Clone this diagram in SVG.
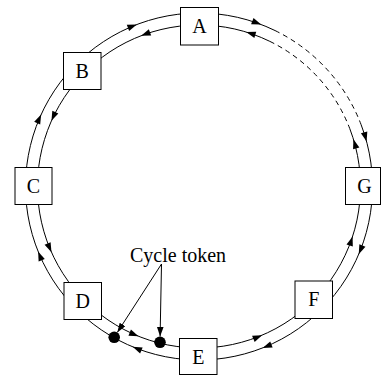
<svg xmlns="http://www.w3.org/2000/svg" xmlns:xlink="http://www.w3.org/1999/xlink" width="381" height="375" viewBox="0 0 381 375">
  <style>
    .ring { fill: none; stroke: #000; stroke-width: 1; }
    .dash { stroke-dasharray: 5 4; }
    .node rect { fill: #fff; stroke: #000; stroke-width: 1; }
    .node text { text-anchor: middle; }
    .head { fill: #000; }
    .lead { fill: none; stroke: #000; stroke-width: 1; marker-end: url(#tip); }
    .token { fill: #000; }
  </style>
  <defs>
    <!-- arrowhead pointing along +x, tip at origin -->
    <path id="head" class="head" d="M0,0 L-9.5,-3.3 L-9.5,3.3 Z"/>
    <marker id="tip" markerUnits="userSpaceOnUse" markerWidth="11" markerHeight="8" refX="9.5" refY="3.3" orient="auto">
      <path d="M0,0 L9.5,3.3 L0,6.6 Z" fill="#000"/>
    </marker>
  </defs>

  <!-- two counter-running rings, centre (199,186.5); outer runs clockwise, inner anticlockwise -->
  <g id="connectors">
    <path class="ring" d="M360.98,124.32 A173.5,173.5 0 1 1 275.06,30.56"/>
    <path class="ring dash" d="M275.06,30.56 A173.5,173.5 0 0 1 360.98,124.32"/>
    <path class="ring" d="M349.77,128.62 A161.5,161.5 0 1 1 269.80,41.35"/>
    <path class="ring dash" d="M269.80,41.35 A161.5,161.5 0 0 1 349.77,128.62"/>

    <!-- outer ring heads (clockwise) -->
    <use xlink:href="#head" transform="rotate(-69 199 186.5) translate(372.5 186.5) rotate(90)"/>
    <use xlink:href="#head" transform="rotate(-15 199 186.5) translate(372.5 186.5) rotate(90)"/>
    <use xlink:href="#head" transform="rotate(23 199 186.5) translate(372.5 186.5) rotate(90)"/>
    <use xlink:href="#head" transform="rotate(68.5 199 186.5) translate(372.5 186.5) rotate(90)"/>
    <use xlink:href="#head" transform="rotate(112.5 199 186.5) translate(372.5 186.5) rotate(90)"/>
    <use xlink:href="#head" transform="rotate(158 199 186.5) translate(372.5 186.5) rotate(90)"/>
    <use xlink:href="#head" transform="rotate(204.5 199 186.5) translate(372.5 186.5) rotate(90)"/>
    <use xlink:href="#head" transform="rotate(249 199 186.5) translate(372.5 186.5) rotate(90)"/>

    <!-- inner ring heads (anticlockwise) -->
    <use xlink:href="#head" transform="rotate(-73 199 186.5) translate(360.5 186.5) rotate(-90)"/>
    <use xlink:href="#head" transform="rotate(-17 199 186.5) translate(360.5 186.5) rotate(-90)"/>
    <use xlink:href="#head" transform="rotate(18 199 186.5) translate(360.5 186.5) rotate(-90)"/>
    <use xlink:href="#head" transform="rotate(67 199 186.5) translate(360.5 186.5) rotate(-90)"/>
    <use xlink:href="#head" transform="rotate(112 199 186.5) translate(360.5 186.5) rotate(-90)"/>
    <use xlink:href="#head" transform="rotate(156 199 186.5) translate(360.5 186.5) rotate(-90)"/>
    <use xlink:href="#head" transform="rotate(204 199 186.5) translate(360.5 186.5) rotate(-90)"/>
    <use xlink:href="#head" transform="rotate(249 199 186.5) translate(360.5 186.5) rotate(-90)"/>
  </g>

  <!-- stations -->
  <g font-family="'Liberation Serif', 'Times New Roman', 'DejaVu Serif', serif" font-size="20" fill="#000">
    <g id="node-A" class="node"><rect x="180.5" y="7.5" width="38" height="37.5"/><text x="199.5" y="32.8">A</text></g>
    <g id="node-B" class="node"><rect x="63.5" y="52.5" width="37.5" height="37"/><text x="82.25" y="77.6">B</text></g>
    <g id="node-C" class="node"><rect x="15" y="167.5" width="37" height="37"/><text x="33.5" y="192.6">C</text></g>
    <g id="node-D" class="node"><rect x="64" y="282.5" width="37.5" height="37"/><text x="82.75" y="307.6">D</text></g>
    <g id="node-E" class="node"><rect x="179.5" y="338.5" width="37.5" height="36"/><text x="198.25" y="363.6">E</text></g>
    <g id="node-F" class="node"><rect x="295" y="281" width="37.5" height="37.5"/><text x="313.75" y="306.3">F</text></g>
    <g id="node-G" class="node"><rect x="345.5" y="167.5" width="35" height="37"/><text x="364.5" y="192.6">G</text></g>
  </g>

  <!-- tokens travelling on the rings, with their callout -->
  <g id="tokens">
    <circle class="token" cx="114.2" cy="337.3" r="5.8"/>
    <circle class="token" cx="160" cy="342.3" r="5.8"/>
    <text x="130" y="261.5" font-family="'Liberation Serif', 'Times New Roman', 'DejaVu Serif', serif" font-size="20" fill="#000">Cycle token</text>
    <path class="lead" d="M161.5,264 L117.3,332.4"/>
    <path class="lead" d="M161.5,264 L160.1,336.5"/>
  </g>
</svg>
